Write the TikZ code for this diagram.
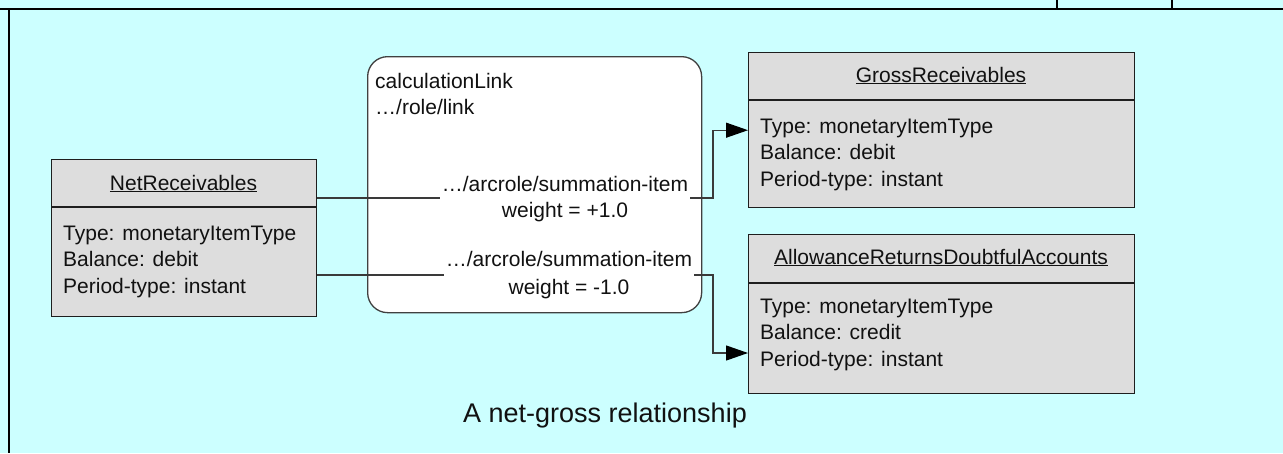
\documentclass[tikz,border=0pt]{standalone}
\usepackage{fontspec}
\setmainfont{Liberation Sans}
\usetikzlibrary{arrows.meta,calc}
\definecolor{bgcyan}{HTML}{CCFFFF}
\definecolor{boxgray}{HTML}{DDDDDD}
\definecolor{edgeclr}{HTML}{1E1E1E}
\definecolor{wireclr}{HTML}{3A3A3A}
\definecolor{inkclr}{HTML}{111111}
\begin{document}
\begin{tikzpicture}[x=1pt,y=-1pt,
  classbox/.style={draw=edgeclr, line width=1.4pt, fill=boxgray, rectangle,
                   anchor=north west, inner sep=0pt},
  classrule/.style={draw=edgeclr, line width=1.4pt},
  linkbox/.style={draw=edgeclr!85, line width=1.3pt, fill=white, rectangle,
                  rounded corners=20pt, anchor=north west, inner sep=0pt},
  txt/.style={inner sep=0pt, text=inkclr, font=\fontsize{21}{26.5}\selectfont},
  arclabel/.style={txt, anchor=base, inner xsep=2pt},
  wire/.style={draw=wireclr, line width=1.2pt},
  tip/.style={-{Triangle[length=22pt,width=15pt,color=black,fill=black]}},
  frame/.style={draw=black, line width=2.8pt}]

\useasboundingbox (0,0) rectangle (1283,453);
\fill[bgcyan] (0,0) rectangle (1283,453);

% page frame
\draw[frame] (0,9) -- (1283,9);
\draw[frame] (9,9) -- (9,453);
\draw[draw=black, line width=1.6pt] (1057,0) -- (1057,9);
\draw[draw=black, line width=1.6pt] (1172,0) -- (1172,9);

% class boxes
\node[classbox, minimum width=265pt, minimum height=157pt] (net) at (51,159) {};
\draw[classrule] ($(net.north west)+(0,48)$) -- ($(net.north east)+(0,48)$);
\node[txt, anchor=base] (netT) at (183.5,190) {\underline{NetReceivables}};
\node[txt, anchor=base west] (netB) at (63,240)
  {\begin{tabular}[t]{@{}l@{}}Type: monetaryItemType\\Balance: debit\\Period-type: instant\end{tabular}};

\node[classbox, minimum width=386pt, minimum height=155pt] (gross) at (748,52) {};
\draw[classrule] ($(gross.north west)+(0,48)$) -- ($(gross.north east)+(0,48)$);
\node[txt, anchor=base] (grossT) at (941,82) {\underline{GrossReceivables}};
\node[txt, anchor=base west] (grossB) at (760,133)
  {\begin{tabular}[t]{@{}l@{}}Type: monetaryItemType\\Balance: debit\\Period-type: instant\end{tabular}};

\node[classbox, minimum width=386pt, minimum height=159pt] (allow) at (748,234) {};
\draw[classrule] ($(allow.north west)+(0,49)$) -- ($(allow.north east)+(0,49)$);
\node[txt, anchor=base] (allowT) at (941,264) {\underline{AllowanceReturnsDoubtfulAccounts}};
\node[txt, anchor=base west] (allowB) at (760,313)
  {\begin{tabular}[t]{@{}l@{}}Type: monetaryItemType\\Balance: credit\\Period-type: instant\end{tabular}};

% calculation link container
\node[linkbox, minimum width=334pt, minimum height=256pt] (link) at (367,56) {};
\node[txt, anchor=base west] (linkT) at (375,88)
  {\begin{tabular}[t]{@{}l@{}}calculationLink\\…/role/link\end{tabular}};

% arc labels
\node[arclabel] (lab1) at (565,191)
  {\begin{tabular}[t]{@{}c@{}}…/arcrole/summation-item\\weight = +1.0\end{tabular}};
\node[arclabel] (lab2) at (569,266)
  {\begin{tabular}[t]{@{}c@{}}…/arcrole/summation-item\\[2pt]weight = -1.0\end{tabular}};

% arcs
\coordinate (p1) at ($(net.north east)+(0,39)$);
\coordinate (p2) at ($(net.north east)+(0,116)$);
\coordinate (bus) at (713,0);
\coordinate (q2) at ($(allow.north west)+(0,119)$);
\draw[wire] (p1) -- (p1 -| lab1.west);
\draw[wire, tip] (p1 -| lab1.east) -- (p1 -| bus) |- (gross.west);
\draw[wire] (p2) -- (p2 -| lab2.west);
\draw[wire, tip] (p2 -| lab2.east) -- (p2 -| bus) |- (q2);

% caption
\node[inner sep=0pt, text=inkclr, font=\fontsize{27}{32}\selectfont, anchor=base] (cap)
  at (605,422) {A net-gross relationship};
\end{tikzpicture}
\end{document}
